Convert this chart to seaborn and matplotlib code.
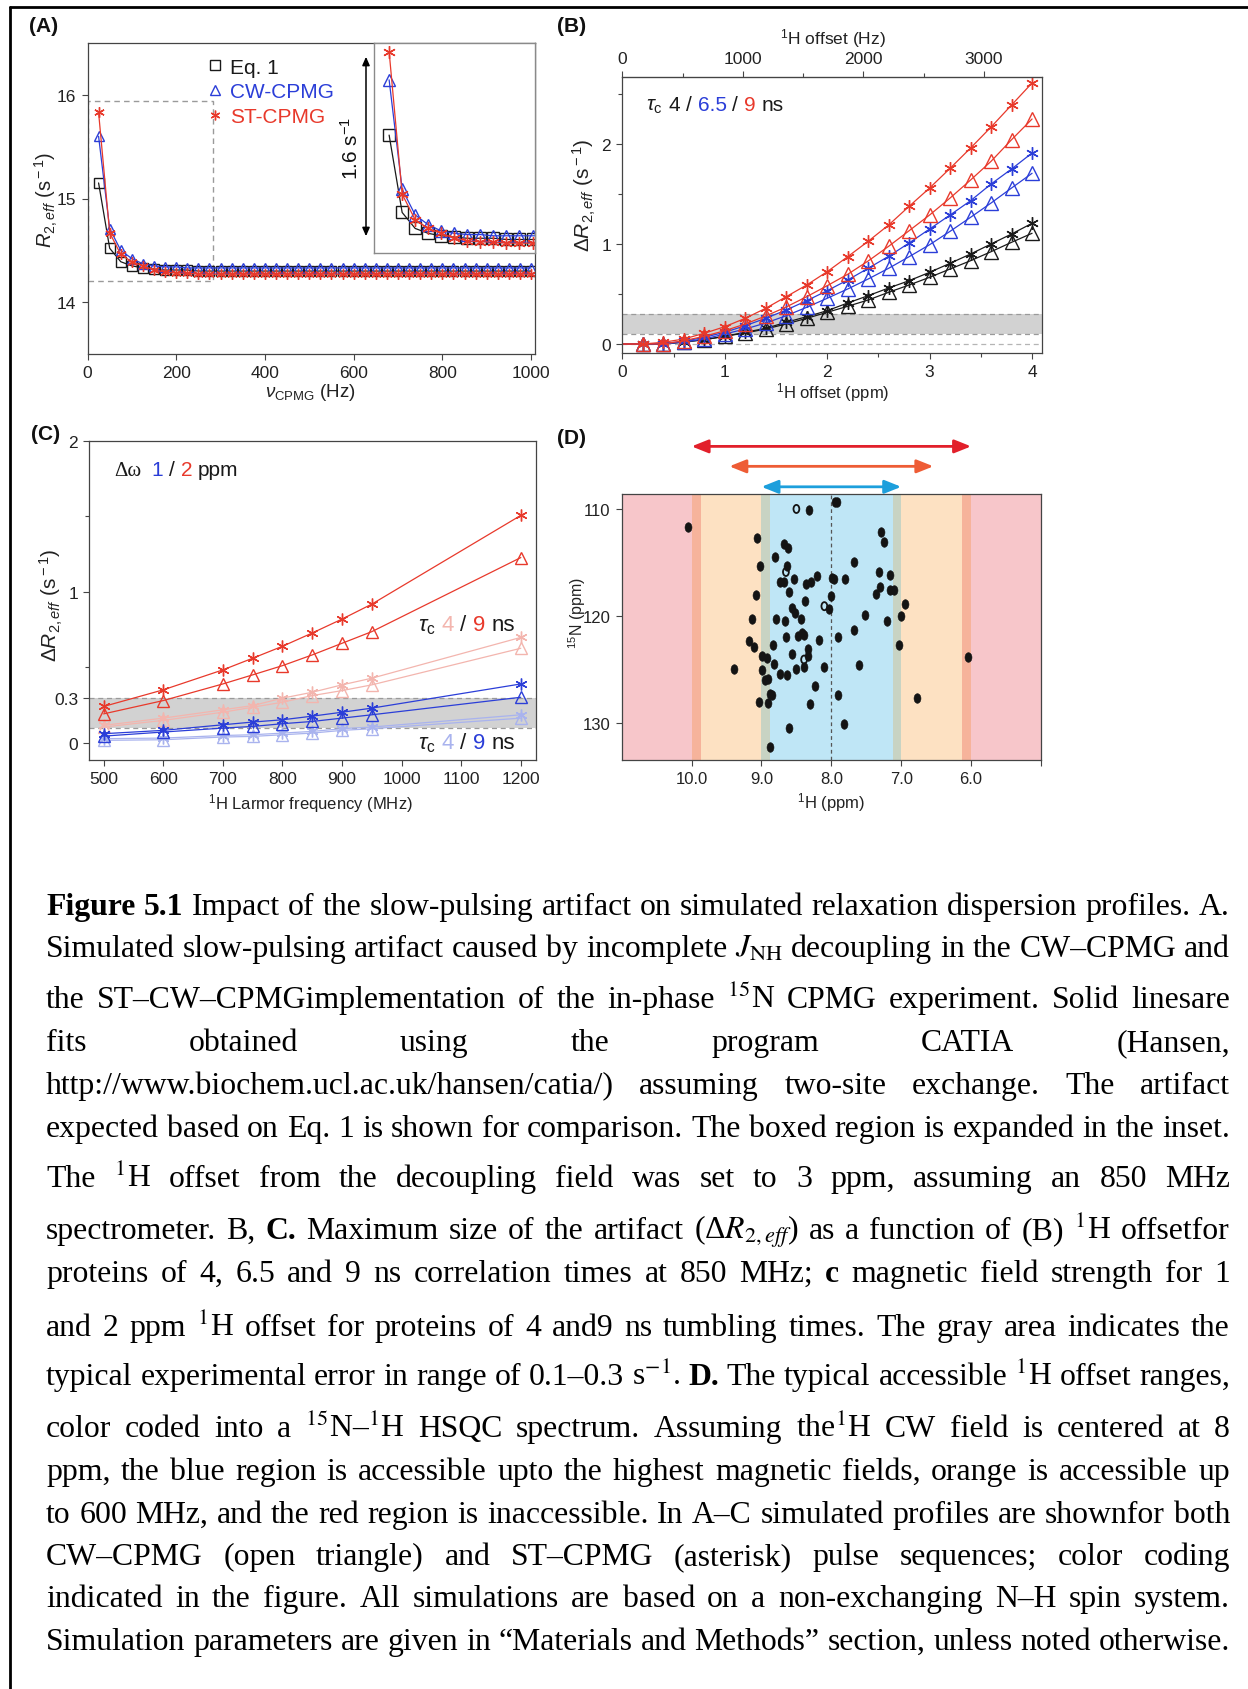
import matplotlib
matplotlib.use("Agg")
import matplotlib.pyplot as plt
import seaborn as sns
from matplotlib.lines import Line2D
from matplotlib.patches import Rectangle, FancyArrowPatch
from matplotlib.path import Path
from matplotlib.ticker import FixedLocator, MultipleLocator

# ---------------------------------------------------------------- data
# (A) R2,eff dispersion profiles at 3 ppm 1H offset, 850 MHz
nu_cpmg = [25, 50, 75, 100, 125, 150, 175, 200, 225, 250, 275, 300, 325, 350,
           375, 400, 425, 450, 475, 500, 525, 550, 575, 600, 625, 650, 675, 700,
           725, 750, 775, 800, 825, 850, 875, 900, 925, 950, 975, 1000]
r2_eq1 = [15.15, 14.52, 14.39, 14.35, 14.33, 14.32, 14.31, 14.31, 14.31, 14.30,
          14.30, 14.30, 14.30, 14.30, 14.30, 14.30, 14.30, 14.30, 14.30, 14.30,
          14.30, 14.30, 14.30, 14.30, 14.30, 14.30, 14.30, 14.30, 14.30, 14.30,
          14.30, 14.30, 14.30, 14.30, 14.30, 14.30, 14.30, 14.30, 14.30, 14.30]
r2_cw = [15.60, 14.71, 14.50, 14.42, 14.37, 14.35, 14.34, 14.34, 14.33, 14.33,
         14.33, 14.33, 14.33, 14.33, 14.33, 14.33, 14.33, 14.33, 14.33, 14.33,
         14.33, 14.33, 14.33, 14.33, 14.33, 14.33, 14.33, 14.33, 14.33, 14.33,
         14.33, 14.33, 14.33, 14.33, 14.33, 14.33, 14.33, 14.33, 14.33, 14.33]
r2_st = [15.83, 14.67, 14.46, 14.39, 14.35, 14.31, 14.29, 14.28, 14.28, 14.27,
         14.27, 14.27, 14.27, 14.27, 14.27, 14.27, 14.27, 14.27, 14.27, 14.27,
         14.27, 14.27, 14.27, 14.27, 14.27, 14.27, 14.27, 14.27, 14.27, 14.27,
         14.27, 14.27, 14.27, 14.27, 14.27, 14.27, 14.27, 14.27, 14.27, 14.27]
box_nu = (0, 282)          # boxed region shown in the inset
box_r2 = (14.20, 15.94)

# (B) artifact size vs 1H offset (ppm), tau_c = 4 / 6.5 / 9 ns
offset_ppm = [0.0, 0.2, 0.4, 0.6, 0.8, 1.0, 1.2, 1.4, 1.6, 1.8, 2.0,
              2.2, 2.4, 2.6, 2.8, 3.0, 3.2, 3.4, 3.6, 3.8, 4.0]
st_9ns = [0, 0.0, 0.017, 0.05, 0.107, 0.173, 0.257, 0.357, 0.473, 0.59, 0.723,
          0.873, 1.027, 1.19, 1.377, 1.56, 1.757, 1.96, 2.17, 2.39, 2.61]
cw_9ns = [0, 0.0, 0.0, 0.033, 0.077, 0.133, 0.2, 0.28, 0.37, 0.473, 0.583,
          0.697, 0.83, 0.977, 1.133, 1.29, 1.46, 1.64, 1.827, 2.043, 2.25]
st_65ns = [0, 0.0, 0.005, 0.027, 0.067, 0.117, 0.183, 0.257, 0.34, 0.433, 0.533,
           0.64, 0.757, 0.877, 1.01, 1.15, 1.29, 1.433, 1.6, 1.75, 1.91]
cw_65ns = [0, 0.0, 0.0, 0.02, 0.05, 0.1, 0.15, 0.21, 0.283, 0.367, 0.457,
           0.55, 0.65, 0.757, 0.873, 0.993, 1.127, 1.267, 1.41, 1.56, 1.707]
st_4ns = [0, 0.0, 0.0, 0.02, 0.043, 0.077, 0.117, 0.157, 0.217, 0.273, 0.333,
          0.41, 0.483, 0.56, 0.633, 0.717, 0.807, 0.9, 1.0, 1.1, 1.207]
cw_4ns = [0, 0.0, 0.0, 0.02, 0.043, 0.077, 0.11, 0.15, 0.2, 0.257, 0.317,
          0.377, 0.44, 0.517, 0.59, 0.667, 0.75, 0.833, 0.923, 1.017, 1.107]
spectrometer_mhz = 850
error_band = (0.1, 0.3)

# (C) artifact size vs 1H Larmor frequency
larmor_mhz = [500, 600, 700, 750, 800, 850, 900, 950, 1200]
st_2ppm_9ns = [0.242, 0.352, 0.484, 0.561, 0.64, 0.728, 0.82, 0.919, 1.506]
cw_2ppm_9ns = [0.193, 0.281, 0.391, 0.451, 0.512, 0.583, 0.66, 0.737, 1.227]
st_2ppm_4ns = [0.117, 0.165, 0.22, 0.248, 0.297, 0.336, 0.385, 0.429, 0.699]
cw_2ppm_4ns = [0.106, 0.15, 0.204, 0.237, 0.27, 0.314, 0.347, 0.385, 0.627]
st_1ppm_9ns = [0.062, 0.084, 0.121, 0.139, 0.154, 0.178, 0.204, 0.231, 0.391]
cw_1ppm_9ns = [0.046, 0.073, 0.099, 0.11, 0.128, 0.143, 0.165, 0.187, 0.303]
st_1ppm_4ns = [0.029, 0.033, 0.05, 0.055, 0.066, 0.077, 0.095, 0.106, 0.187]
cw_1ppm_4ns = [0.018, 0.022, 0.04, 0.044, 0.055, 0.066, 0.084, 0.095, 0.165]

# (D) 15N-1H HSQC peaks
peak_h = [10.05, 9.06, 9.02, 9.08, 9.13, 9.18, 9.10, 9.39, 8.99, 8.92, 8.99, 8.95,
          8.90, 9.04, 8.90, 8.88, 8.85, 8.88, 8.81, 8.68, 8.62, 8.63, 8.74, 8.68,
          8.54, 8.60, 8.79, 8.66, 8.57, 8.52, 8.65, 8.83, 8.82, 8.74, 8.63, 8.56,
          8.51, 8.60, 8.32, 7.95, 8.36, 8.29, 8.21, 8.37, 8.43, 8.48, 8.42, 8.39,
          8.33, 8.33, 8.39, 8.18, 8.11, 8.23, 8.30, 8.03, 8.00, 7.99, 7.96, 7.90,
          7.90, 7.82, 7.81, 7.68, 7.67, 7.60, 7.52, 7.36, 7.31, 7.32, 7.29, 7.25,
          7.20, 7.16, 7.16, 7.10, 7.01, 7.03, 6.94, 6.77, 6.05, 7.92]
peak_n = [111.66, 112.72, 115.31, 118.03, 120.31, 122.34, 122.91, 125.0, 123.81,
          123.91, 125.09, 126.03, 125.94, 128.06, 128.13, 127.34, 127.44, 132.25,
          114.53, 113.28, 113.69, 115.31, 116.81, 116.88, 116.56, 117.81, 120.31,
          120.53, 119.28, 119.75, 121.97, 122.72, 124.47, 125.41, 125.53, 123.59,
          125.0, 130.47, 110.06, 109.38, 117.03, 116.88, 116.25, 118.59, 120.31,
          121.88, 121.63, 121.81, 123.13, 123.75, 124.84, 122.28, 124.84, 126.56,
          128.22, 119.38, 118.19, 116.47, 116.56, 121.94, 127.41, 130.16, 116.56,
          115.0, 121.31, 124.59, 119.91, 117.97, 117.28, 115.88, 112.19, 113.13,
          120.47, 116.16, 117.59, 117.59, 120.06, 122.75, 118.91, 127.66, 123.84,
          109.38]
weak_peak_h = [8.50, 8.65, 8.10, 8.39]
weak_peak_n = [110.0, 115.9, 119.1, 124.1]
cw_center_ppm = 8.0
zone_halfwidths = [0.0, 0.88, 1.0, 1.87, 2.0, 3.0]
zone_colors = ["#bfe6f6", "#c8d3c3", "#fde1c2", "#f6b39b", "#f7c6ca"]
arrow_halfwidths = [2.0, 1.46, 1.0]
arrow_colors = ["#e2202b", "#ee5c35", "#1d9fdc"]

caption_lines = [
    r"!Figure !5.1 Impact of the slow-pulsing artifact on simulated relaxation dispersion profiles. A.",
    r"Simulated slow-pulsing artifact caused by incomplete $J_{\mathrm{NH}}$ decoupling in the CW–CPMG and",
    r"the ST–CW–CPMGimplementation of the in-phase $^{15}$N CPMG experiment. Solid linesare",
    r"fits obtained using the program CATIA (Hansen,",
    r"http://www.biochem.ucl.ac.uk/hansen/catia/) assuming two-site exchange. The artifact",
    r"expected based on Eq. 1 is shown for comparison. The boxed region is expanded in the inset.",
    r"The $^{1}$H offset from the decoupling field was set to 3 ppm, assuming an 850 MHz",
    r"spectrometer. B, !C. Maximum size of the artifact (Δ$R_{2,eff}$) as a function of (B) $^{1}$H offsetfor",
    r"proteins of 4, 6.5 and 9 ns correlation times at 850 MHz; !c magnetic field strength for 1",
    r"and 2 ppm $^{1}$H offset for proteins of 4 and9 ns tumbling times. The gray area indicates the",
    r"typical experimental error in range of 0.1–0.3 s$^{-1}$. !D. The typical accessible $^{1}$H offset ranges,",
    r"color coded into a $^{15}$N–$^{1}$H HSQC spectrum. Assuming the$^{1}$H CW field is centered at 8",
    r"ppm, the blue region is accessible upto the highest magnetic fields, orange is accessible up",
    r"to 600 MHz, and the red region is inaccessible. In A–C simulated profiles are shownfor both",
    r"CW–CPMG (open triangle) and ST–CPMG (asterisk) pulse sequences; color coding",
    r"indicated in the figure. All simulations are based on a non-exchanging N–H spin system.",
    r"Simulation parameters are given in “Materials and Methods” section, unless noted otherwise.",
]
caption_baselines = [915, 957, 1008, 1051, 1094, 1137, 1187, 1239, 1282, 1336,
                     1385, 1437, 1480, 1523, 1565, 1607, 1650]

# ---------------------------------------------------------------- style
sns.set_style("ticks")
plt.rcParams["font.family"] = ["Liberation Sans", "DejaVu Sans"]
plt.rcParams["mathtext.fontset"] = "custom"
plt.rcParams["mathtext.rm"] = "Liberation Sans"
plt.rcParams["mathtext.it"] = "Liberation Sans:italic"
plt.rcParams["mathtext.bf"] = "Liberation Sans:bold"

RED = "#e8392b"
BLUE = "#2b3ed8"
BLACK = "#1a1a1a"
PALE_RED = "#f3b5ae"
PALE_BLUE = "#a9b3ee"
SPINE = "#444444"
TICK_SIZE = 12.5

W_FIG, H_FIG = 1248, 1690
fig = plt.figure(figsize=(W_FIG / 100, H_FIG / 100), dpi=100)
renderer = fig.canvas.get_renderer()


def fx(px):
    return px / W_FIG


def fy(py):
    return 1 - py / H_FIG


def rect(l, t, r, b):
    return [fx(l), fy(b), (r - l) / W_FIG, (b - t) / H_FIG]


def measure(t):
    return t.get_window_extent(renderer=renderer).width


def style_axes(ax, size=TICK_SIZE):
    for sp in ax.spines.values():
        sp.set_color(SPINE)
        sp.set_linewidth(0.9)
    ax.tick_params(which="both", direction="out", color=SPINE, width=0.8,
                   labelsize=size, labelcolor="#222222")
    ax.tick_params(which="major", length=4.5)
    ax.tick_params(which="minor", length=3)


MARKERS = {"sq": "s", "tri": "^", "star": (6, 2, 0)}


def series(ax, x, y, color, kind, ms, lw=0.9, mew=1.0, markevery=None, z=2):
    sns.lineplot(x=x, y=y, ax=ax, color=color, lw=lw, marker=MARKERS[kind],
                 markersize=ms, markerfacecolor="none", markeredgecolor=color,
                 markeredgewidth=mew, markevery=markevery, legend=False,
                 errorbar=None, sort=False, zorder=z)


def color_text(x_px, y_px, parts, size, gap_em=0.28):
    x = x_px
    gap = gap_em * size * 100 / 72
    for part in parts:
        kw = {"family": part[2]} if len(part) > 2 else {}
        t = fig.text(fx(x), fy(y_px), part[0], color=part[1], fontsize=size,
                     ha="left", va="baseline", **kw)
        x += measure(t) + gap * (1.8 if len(part) > 2 else 1.0)


def set_labels(ax, xlabel, ylabel, xpos, ypos, xsize, ysize):
    ax.set_xlabel(xlabel, fontsize=xsize, color="#222222")
    ax.set_ylabel(ylabel, fontsize=ysize, color="#222222")
    ax.xaxis.set_label_coords(*xpos)
    ax.yaxis.set_label_coords(*ypos)
    ax.xaxis.label.set_va("center")
    ax.yaxis.label.set_va("center")


# ---------------------------------------------------------------- (A)
axA = fig.add_axes(rect(87.5, 44, 534.6, 355))
style_axes(axA)
series(axA, nu_cpmg, r2_eq1, BLACK, "sq", 7)
series(axA, nu_cpmg, r2_cw, BLUE, "tri", 7.5)
series(axA, nu_cpmg, r2_st, RED, "star", 7.5)
axA.add_patch(Rectangle((box_nu[0], box_r2[0]), box_nu[1] - box_nu[0],
                        box_r2[1] - box_r2[0], fill=False, ec="#9a9a9a",
                        ls=(0, (4, 3)), lw=1.0, zorder=1))
axA.set_xlim(0, 1008)
axA.set_ylim(13.5, 16.5)
axA.set_xticks([0, 200, 400, 600, 800, 1000])
axA.set_yticks([14, 15, 16])
set_labels(axA, r"$\nu_{\rm CPMG}$ (Hz)", r"$R_{2,eff}$ (s$^{\rm -1}$)",
           (0.499, -0.122), (-0.092, 0.5), 13.5, 14.5)

handles = [Line2D([], [], ls="none", marker=MARKERS[k], ms=7, mfc="none",
                  mec=c, mew=1.0) for k, c in (("sq", BLACK), ("tri", BLUE), ("star", RED))]
axA.legend(handles, ["Eq. 1", "CW-CPMG", "ST-CPMG"], labelcolor=[BLACK, BLUE, RED],
           loc="upper left", bbox_to_anchor=(0.272, 0.953), frameon=False,
           fontsize=15, handlelength=0.6, handletextpad=0.4, labelspacing=0.27,
           borderpad=0, borderaxespad=0)

axIn = fig.add_axes(rect(374, 44, 534.6, 254))
series(axIn, nu_cpmg, r2_eq1, BLACK, "sq", 8.5)
series(axIn, nu_cpmg, r2_cw, BLUE, "tri", 8.5)
series(axIn, nu_cpmg, r2_st, RED, "star", 9)
axIn.set_xlim(-4, 304)
axIn.set_ylim(14.19, 15.90)
axIn.set_xticks([])
axIn.set_yticks([])
axIn.set_xlabel("")
axIn.set_ylabel("")
for sp in axIn.spines.values():
    sp.set_color("#8a8a8a")
    sp.set_linewidth(1.0)

fig.add_artist(FancyArrowPatch((fx(366), fy(55)), (fx(366), fy(240)),
                               transform=fig.transFigure, color="black", lw=1.1,
                               arrowstyle="<|-|>,head_length=5,head_width=2.2"))
fig.text(fx(351), fy(148), "1.6 s$^{-1}$", rotation=90, ha="center", va="center",
         fontsize=15, color="#111111")

# ---------------------------------------------------------------- (B)
axB = fig.add_axes(rect(622.3, 78, 1042.3, 354))
style_axes(axB)
axB.axhspan(*error_band, color="#d2d2d2", lw=0, zorder=0)
for yv, col in ((error_band[1], "#9a9a9a"), (error_band[0], "#9a9a9a"), (0.0, "#b5b5b5")):
    axB.axhline(yv, color=col, ls=(0, (4, 3)), lw=0.9, zorder=0.5)
series(axB, offset_ppm, cw_4ns, BLACK, "tri", 9.5, markevery=slice(1, None))
series(axB, offset_ppm, st_4ns, BLACK, "star", 9, markevery=slice(1, None))
series(axB, offset_ppm, cw_65ns, BLUE, "tri", 9.5, markevery=slice(1, None))
series(axB, offset_ppm, st_65ns, BLUE, "star", 9, markevery=slice(1, None))
series(axB, offset_ppm, cw_9ns, RED, "tri", 9.5, markevery=slice(1, None))
series(axB, offset_ppm, st_9ns, RED, "star", 9, markevery=slice(1, None))
axB.set_xlim(0, 4.1)
axB.set_ylim(-0.09, 2.67)
axB.set_xticks([0, 1, 2, 3, 4])
axB.xaxis.set_minor_locator(MultipleLocator(0.5))
axB.set_yticks([0, 1, 2])
axB.yaxis.set_minor_locator(MultipleLocator(0.5))
set_labels(axB, r"$^{1}$H offset (ppm)", r"$\Delta R_{2,eff}$ (s$^{\rm -1}$)",
           (0.502, -0.141), (-0.089, 0.576), 12, 15)

secB = axB.secondary_xaxis("top", functions=(lambda p: p * spectrometer_mhz,
                                              lambda h: h / spectrometer_mhz))
secB.set_xticks([0, 1000, 2000, 3000])
secB.xaxis.set_minor_locator(MultipleLocator(500))
secB.tick_params(which="both", direction="out", color=SPINE, width=0.8,
                 labelsize=TICK_SIZE, labelcolor="#222222")
secB.tick_params(which="major", length=4.5)
secB.tick_params(which="minor", length=3)
secB.spines["top"].set_color(SPINE)
fig.text(fx(833), fy(39), r"$^{1}$H offset (Hz)", ha="center", va="center",
         fontsize=12.5, color="#222222")

color_text(646, 111, [(r"$\tau_{\rm c}$", BLACK), ("4", BLACK), ("/", BLACK),
                      ("6.5", BLUE), ("/", BLACK), ("9", RED), ("ns", BLACK)], 15)

# ---------------------------------------------------------------- (C)
axC = fig.add_axes(rect(89.3, 441.7, 535.7, 760.7))
style_axes(axC)
axC.axhspan(*error_band, color="#d2d2d2", lw=0, zorder=0)
for yv in error_band:
    axC.axhline(yv, color="#9a9a9a", ls=(0, (4, 3)), lw=0.9, zorder=0.5)
series(axC, larmor_mhz, cw_1ppm_4ns, PALE_BLUE, "tri", 9)
series(axC, larmor_mhz, st_1ppm_4ns, PALE_BLUE, "star", 8.5)
series(axC, larmor_mhz, cw_2ppm_4ns, PALE_RED, "tri", 9)
series(axC, larmor_mhz, st_2ppm_4ns, PALE_RED, "star", 8.5)
series(axC, larmor_mhz, cw_1ppm_9ns, BLUE, "tri", 9)
series(axC, larmor_mhz, st_1ppm_9ns, BLUE, "star", 8.5)
series(axC, larmor_mhz, cw_2ppm_9ns, RED, "tri", 9)
series(axC, larmor_mhz, st_2ppm_9ns, RED, "star", 8.5)
axC.set_xlim(476, 1225)
axC.set_ylim(-0.11, 2.0)
axC.set_xticks(list(range(500, 1201, 100)))
axC.set_yticks([0, 0.3, 1, 2])
axC.set_yticklabels(["0", "0.3", "1", "2"])
axC.yaxis.set_minor_locator(FixedLocator([0.5, 1.5]))
set_labels(axC, r"$^{1}$H Larmor frequency (MHz)", r"$\Delta R_{2,eff}$ (s$^{\rm -1}$)",
           (0.496, -0.133), (-0.084, 0.488), 12, 15)

color_text(114, 476, [("Δω", BLACK, "Liberation Serif"), ("1", BLUE), ("/", BLACK),
                      ("2", RED), ("ppm", BLACK)], 15)
color_text(418, 631, [(r"$\tau_{\rm c}$", BLACK), ("4", PALE_RED), ("/", BLACK),
                      ("9", RED), ("ns", BLACK)], 16)
color_text(418, 749, [(r"$\tau_{\rm c}$", BLACK), ("4", PALE_BLUE), ("/", BLACK),
                      ("9", BLUE), ("ns", BLACK)], 16)

# ---------------------------------------------------------------- (D)
axD = fig.add_axes(rect(621.7, 495, 1041, 761))
style_axes(axD, 12)
for i, col in enumerate(zone_colors):
    lo, hi = zone_halfwidths[i], zone_halfwidths[i + 1]
    axD.axvspan(cw_center_ppm - hi, cw_center_ppm - lo, color=col, lw=0, zorder=0)
    axD.axvspan(cw_center_ppm + lo, cw_center_ppm + hi, color=col, lw=0, zorder=0)
axD.axvline(cw_center_ppm, color="#555555", ls=(0, (3, 2.5)), lw=0.9, zorder=1)

circle = Path.unit_circle()
ellipse = Path(circle.vertices * [0.72, 1.0], circle.codes)
sns.scatterplot(x=peak_h, y=peak_n, ax=axD, marker=ellipse, s=48, color="#141414",
                edgecolor="#141414", linewidth=0.4, legend=False, zorder=3)
sns.scatterplot(x=weak_peak_h, y=weak_peak_n, ax=axD, marker=ellipse, s=34,
                facecolor="none", edgecolor="#141414", linewidth=1.3, legend=False,
                zorder=3)
axD.set_xlim(11.0, 5.0)
axD.set_ylim(133.5, 108.6)
axD.set_xticks([5, 6, 7, 8, 9, 10])
axD.set_xticklabels(["", "6.0", "7.0", "8.0", "9.0", "10.0"])
axD.set_yticks([110, 120, 130])
set_labels(axD, r"$^{1}$H (ppm)", r"$^{15}$N (ppm)", (0.5, -0.158), (-0.107, 0.556),
           12, 11.5)

arrow_y = [1.179, 1.104, 1.027]
for hw, col, ya in zip(arrow_halfwidths, arrow_colors, arrow_y):
    axD.annotate("", xy=(cw_center_ppm - hw, ya), xytext=(cw_center_ppm + hw, ya),
                 xycoords=axD.get_xaxis_transform(), textcoords=axD.get_xaxis_transform(),
                 annotation_clip=False,
                 arrowprops=dict(arrowstyle="<|-|>,head_length=1.0,head_width=0.4",
                                 color=col, lw=2.0, shrinkA=0, shrinkB=0,
                                 mutation_scale=10))

# ---------------------------------------------------------------- panel tags
for tag, xp, yp in (("(A)", 29, 26), ("(B)", 557, 27), ("(C)", 31, 434), ("(D)", 557, 439)):
    fig.text(fx(xp), fy(yp), tag, fontsize=15, fontweight="bold", ha="left",
             va="center", color="#111111")

# ---------------------------------------------------------------- frame lines
fig.add_artist(Line2D([fx(10), 1.0], [fy(8), fy(8)], transform=fig.transFigure,
                      color="black", lw=2.0))
fig.add_artist(Line2D([fx(10), fx(10)], [fy(8), 0.0], transform=fig.transFigure,
                      color="black", lw=2.0))

# ---------------------------------------------------------------- caption
CAP_LEFT, CAP_RIGHT = 46, 1230
CAP_W = CAP_RIGHT - CAP_LEFT


def make_word(word, size):
    bold = word.startswith("!")
    s = word[1:] if bold else word
    return fig.text(0, 0, s, fontsize=size, family="Liberation Serif",
                    fontweight="bold" if bold else "normal", math_fontfamily="stix",
                    ha="left", va="baseline", color="black")


def space_px(size):
    return 0.25 * size * 100 / 72


probe = [make_word(w, 20) for w in caption_lines[-1].split(" ")]
natural = sum(measure(t) for t in probe) + (len(probe) - 1) * space_px(20)
for t in probe:
    t.remove()
cap_size = 20 * CAP_W / natural

for line, base in zip(caption_lines, caption_baselines):
    words = line.split(" ")
    size = cap_size
    toks = [make_word(w, size) for w in words]
    widths = [measure(t) for t in toks]
    min_gap = 0.12 * size * 100 / 72
    if sum(widths) + (len(toks) - 1) * min_gap > CAP_W:
        for t in toks:
            t.remove()
        size = size * (CAP_W - (len(words) - 1) * min_gap) / sum(widths) * 0.995
        toks = [make_word(w, size) for w in words]
        widths = [measure(t) for t in toks]
    gap = (CAP_W - sum(widths)) / max(len(toks) - 1, 1)
    x = CAP_LEFT
    for t, w in zip(toks, widths):
        t.set_position((fx(x), fy(base)))
        x += w + gap

fig.savefig("out.png", dpi=100)
